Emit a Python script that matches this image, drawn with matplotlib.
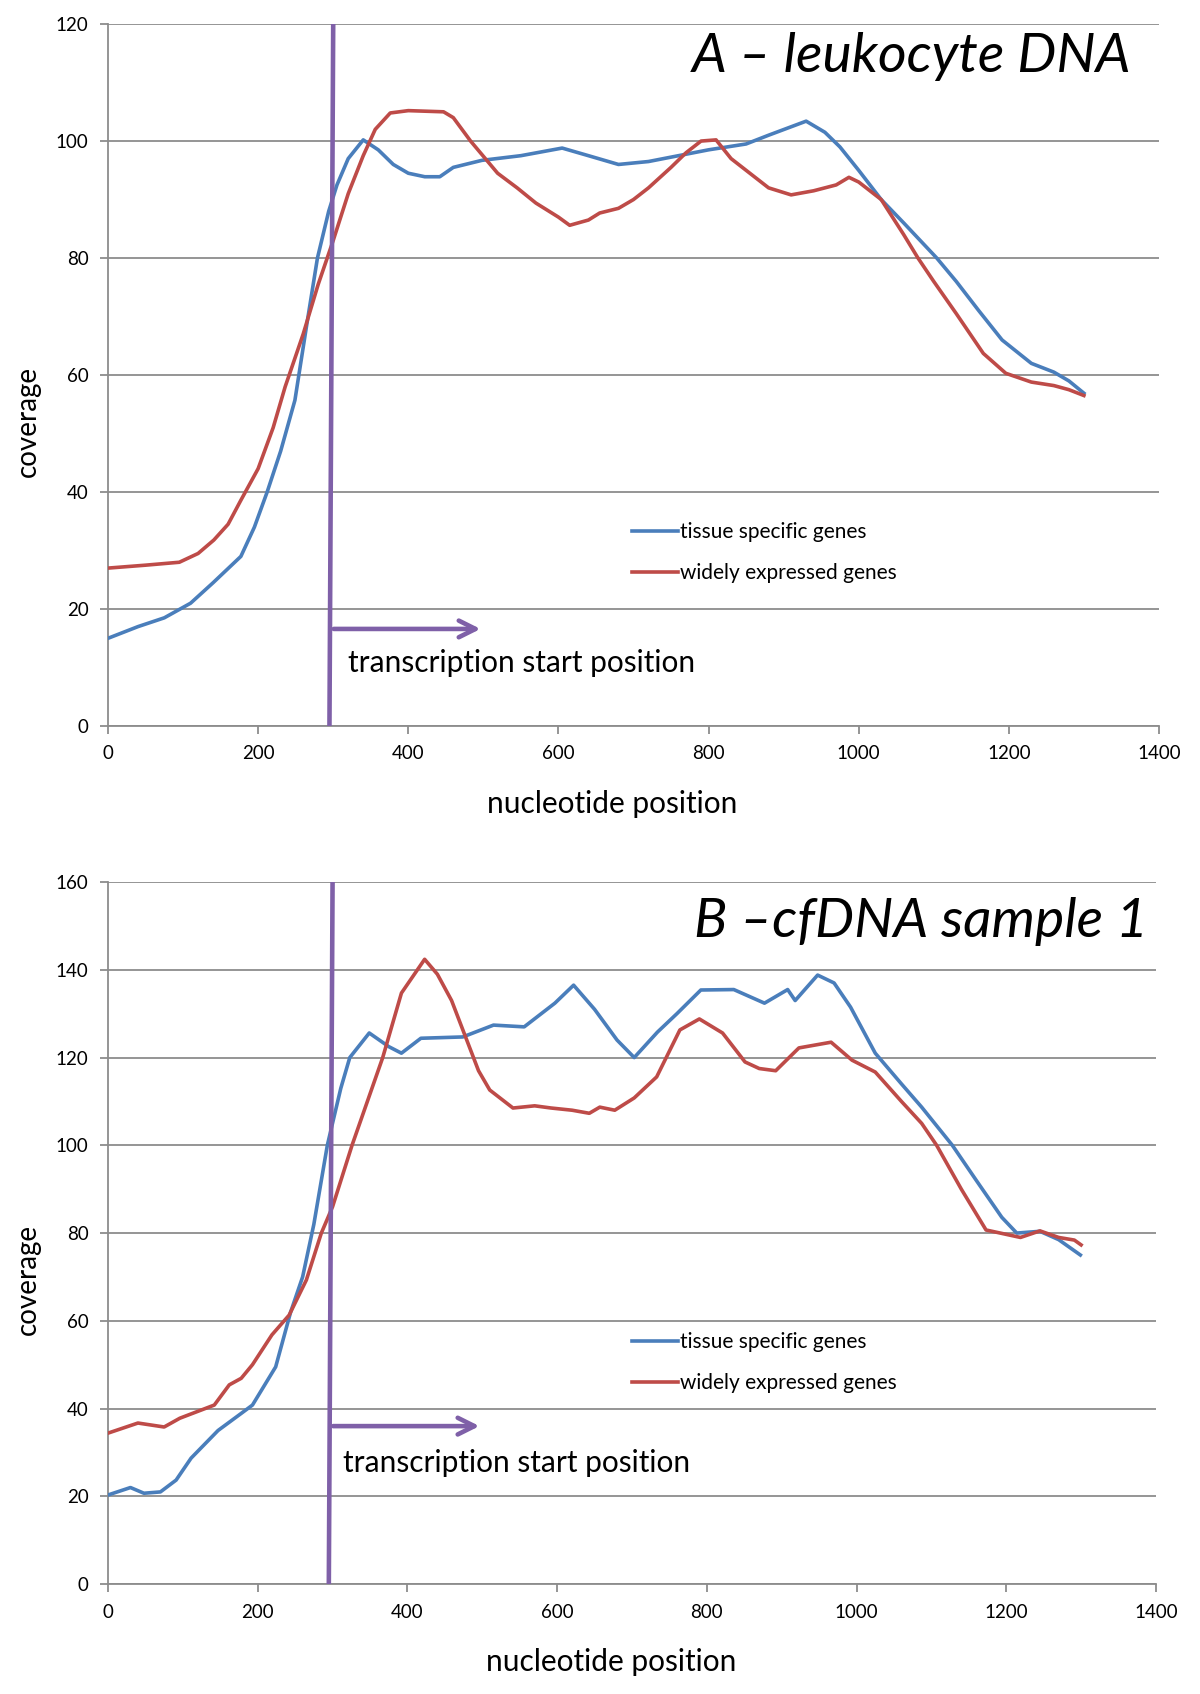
import matplotlib.pyplot as plt

plt.rcParams['font.family'] = ['Lato', 'DejaVu Sans']

# --- datos ---
# Panel A: ADN de leucocitos
a_tissue_x = [0, 40, 75, 110, 140, 177, 195, 212, 230, 249, 264, 279, 294, 305, 320, 340, 360,
              380, 400, 422, 442, 460, 498, 550, 605, 640, 680, 720, 760, 800, 850, 880,
              930, 955, 975, 1000, 1030, 1060, 1104, 1130, 1160, 1191, 1230, 1260, 1280, 1300]
a_tissue_y = [15, 17, 18.5, 21, 24.5, 29, 34, 40, 47, 55.7, 68, 80, 88, 92.5, 97, 100.2, 98.5,
              96, 94.5, 93.9, 93.9, 95.5, 96.7, 97.5, 98.8, 97.5, 96, 96.5, 97.5, 98.5, 99.5, 101,
              103.4, 101.5, 99, 95, 90, 86, 80, 76, 71, 66, 62, 60.5, 59, 56.9]

a_wide_x = [0, 50, 95, 120, 141, 160, 177, 200, 220, 236, 260, 280, 300, 320, 340, 356, 376,
            400, 447, 460, 483, 519, 545, 570, 600, 615, 640, 655, 680, 700, 720, 750, 770,
            790, 810, 830, 860, 880, 910, 940, 970, 987, 1000, 1030, 1060, 1079, 1100, 1130,
            1166, 1196, 1230, 1260, 1280, 1300]
a_wide_y = [27, 27.5, 28, 29.5, 31.8, 34.5, 38.6, 44, 51, 58, 67, 75.5, 83, 91, 97.5, 102, 104.8,
            105.2, 105, 104, 100, 94.5, 92, 89.4, 87, 85.6, 86.5, 87.7, 88.5, 90, 92, 95.5, 98,
            100, 100.2, 97, 94, 92, 90.8, 91.5, 92.5, 93.8, 93, 90, 84, 80, 76, 70.5,
            63.7, 60.3, 58.8, 58.2, 57.5, 56.5]

# Panel B: cfDNA muestra 1
b_tissue_x = [0, 30, 48, 70, 91, 111, 147, 178, 193, 224, 244, 260, 275, 293, 311, 323, 349,
              375, 392, 418, 474, 515, 556, 597, 622, 650, 680, 703, 734, 760, 792, 836, 877,
              908, 918, 948, 970, 992, 1025, 1060, 1087, 1128, 1160, 1194, 1214, 1245, 1270, 1299]
b_tissue_y = [20.3, 22, 20.7, 21, 23.7, 28.7, 35, 38.9, 40.8, 49.5, 62, 70, 82, 100, 113, 120, 125.6,
              122.5, 121, 124.4, 124.7, 127.4, 127, 132.4, 136.5, 131, 124, 120, 125.8, 130, 135.4, 135.5, 132.4,
              135.5, 133, 138.8, 137, 131.5, 121, 114, 108.7, 100, 92, 83.6, 80, 80.4, 78.5, 75]

b_wide_x = [0, 40, 75, 96, 142, 162, 178, 193, 219, 242, 265, 285, 300, 326, 367, 392, 423,
            440, 459, 495, 510, 541, 570, 592, 620, 643, 657, 677, 703, 733, 764, 790, 821,
            851, 870, 892, 923, 966, 994, 1025, 1060, 1087, 1107, 1140, 1173, 1219, 1245,
            1270, 1291, 1300]
b_wide_y = [34.4, 36.7, 35.8, 37.8, 40.8, 45.4, 46.9, 50, 56.8, 61.3, 69.3, 80, 86, 100, 120, 134.7, 142.4,
            139, 133, 117, 112.6, 108.5, 109, 108.5, 108, 107.3, 108.7, 108, 110.8, 115.6, 126.3, 128.8, 125.6,
            119, 117.5, 117, 122.2, 123.5, 119.4, 116.7, 110, 105, 100, 90, 80.7, 79, 80.5,
            79, 78.4, 77.3]

# posición de inicio de la transcripción (línea inclinada ligeramente)
tss_x = [295, 300]
arrow_a = (297, 500, 16.6)
arrow_b = (297, 500, 36)

azul = '#4A7EBB'
rojo = '#BE4B48'
morado = '#7F60A8'
gris = '#8C8C8C'

fig = plt.figure(figsize=(12, 16.94), dpi=100)
ax_a = fig.add_axes([0.09, 0.5714, 0.8758, 0.4144])
ax_b = fig.add_axes([0.09, 0.0649, 0.8733, 0.4144])


def dibujar_panel(ax, tx, ty, wx, wy, ymax, titulo, flecha, texto_pos, tit_pos, leg_pos):
    ax.plot(tx, ty, color=azul, lw=2.6, label='tissue specific genes', zorder=3)
    ax.plot(wx, wy, color=rojo, lw=2.6, label='widely expressed genes', zorder=3)

    # línea vertical y flecha del TSS
    ax.plot(tss_x, [0, ymax], color=morado, lw=3.3, zorder=4)
    x0, x1, yy = flecha
    ax.annotate('', xy=(x1, yy), xytext=(x0, yy),
                arrowprops=dict(arrowstyle='->', lw=3.3, color=morado, mutation_scale=30),
                zorder=4)
    ax.text(texto_pos[0], texto_pos[1], 'transcription start position', fontsize=21.5,
            va='center', ha='left')

    ax.set_xlim(0, 1400)
    ax.set_ylim(0, ymax)
    ax.set_xticks(range(0, 1401, 200))
    ax.set_yticks(range(0, ymax + 1, 20))
    ax.grid(True, axis='y', color=gris, lw=1.3)
    ax.set_axisbelow(True)
    for s in ['top', 'right']:
        ax.spines[s].set_visible(False)
    for s in ['left', 'bottom']:
        ax.spines[s].set_color(gris)
        ax.spines[s].set_linewidth(1.3)
    ax.tick_params(axis='both', colors=gris, length=6, width=1.3, labelsize=13.5,
                   labelcolor='black', pad=8)

    ax.set_xlabel('nucleotide position', fontsize=21.5)
    ax.set_ylabel('coverage', fontsize=20)
    ax.xaxis.set_label_coords(0.48, -0.091)
    ax.yaxis.set_label_coords(-0.064, 0.434)

    ax.text(tit_pos[0], tit_pos[1], titulo, fontsize=39.8, style='italic',
            ha='right', va='center', transform=ax.transAxes)

    ax.legend(loc='center left', bbox_to_anchor=leg_pos, frameon=False, fontsize=15,
              handlelength=2.2, handletextpad=0.1, labelspacing=1.0,
              borderpad=0, borderaxespad=0)


dibujar_panel(ax_a, a_tissue_x, a_tissue_y, a_wide_x, a_wide_y, 120,
              'A \u2013 leukocyte DNA', arrow_a, (320, 10.8), (0.974, 0.954), (0.4986, 0.247))
dibujar_panel(ax_b, b_tissue_x, b_tissue_y, b_wide_x, b_wide_y, 160,
              'B \u2013cfDNA sample 1', arrow_b, (314, 27.6), (0.992, 0.944), (0.5, 0.3155))

fig.savefig('out.png', dpi=100)
